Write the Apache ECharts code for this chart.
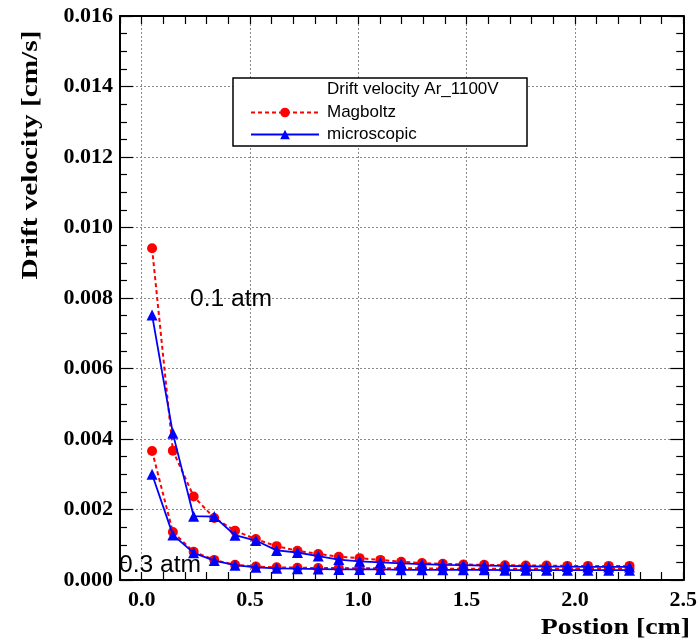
<!DOCTYPE html>
<html>
<head>
<meta charset="utf-8">
<script src="https://cdn.jsdelivr.net/npm/echarts@6/dist/echarts.min.js"></script>
<style>html,body{margin:0;padding:0;background:#fff}#c{width:700px;height:643px}</style>
</head>
<body>
<div id="c"></div>
<script>
// Positions [cm]
var positions = [0.048, 0.144, 0.240, 0.335, 0.431, 0.527, 0.623, 0.719, 0.815, 0.910, 1.006, 1.102,
                 1.198, 1.294, 1.390, 1.485, 1.581, 1.677, 1.773, 1.869, 1.965, 2.060, 2.156, 2.252];
// Drift velocity [cm/s]
var magboltz01 = [0.00941, 0.00367, 0.00237, 0.00176, 0.00140, 0.00116, 0.00096, 0.00083, 0.00074, 0.00066, 0.00062, 0.00057,
                  0.00052, 0.00048, 0.00046, 0.00044, 0.00043, 0.00042, 0.00041, 0.00041, 0.00040, 0.00040, 0.00040, 0.00040];
var micro01    = [0.00752, 0.00416, 0.00181, 0.00180, 0.00127, 0.00112, 0.00084, 0.00078, 0.00068, 0.00058, 0.00053, 0.00050,
                  0.00047, 0.00045, 0.00043, 0.00042, 0.00041, 0.00040, 0.00039, 0.00038, 0.00038, 0.00037, 0.00037, 0.00037];
var magboltz03 = [0.00366, 0.00136, 0.00080, 0.00057, 0.00043, 0.00038, 0.00036, 0.00035, 0.00034, 0.00034, 0.00033, 0.00033,
                  0.00033, 0.00033, 0.00032, 0.00032, 0.00032, 0.00032, 0.00032, 0.00032, 0.00032, 0.00032, 0.00032, 0.00032];
var micro03    = [0.00300, 0.00128, 0.00077, 0.00055, 0.00042, 0.00036, 0.00033, 0.00032, 0.00031, 0.00030, 0.00030, 0.00030,
                  0.00029, 0.00029, 0.00029, 0.00029, 0.00029, 0.00028, 0.00028, 0.00028, 0.00028, 0.00028, 0.00028, 0.00028];
var seriesNames = ['Magboltz', 'microscopic'];
var legendTitle = 'Drift velocity Ar_1100V';
var pressureLabels = ['0.1 atm', '0.3 atm'];
var xTitle = 'Postion [cm]';
var yTitle = 'Drift velocity [cm/s]';

function pairs(xs, ys) { return xs.map(function (x, i) { return [x, ys[i]]; }); }

var chart = echarts.init(document.getElementById('c'), null, {renderer: 'canvas'});
var labelFont = {color: '#000', fontFamily: 'Liberation Serif', fontWeight: 'bold', fontSize: 22};
var T = 'rgba(0,0,0,0)';
var gridColor = '#8a8a8a';

function redSeries(data) {
  return {name: seriesNames[0], type: 'line', data: data, symbol: 'circle', symbolSize: 10,
    itemStyle: {color: '#ff0000'}, lineStyle: {color: '#ff0000', width: 2, type: [4, 3]}, z: 2, animation: false};
}
function blueSeries(data) {
  return {name: seriesNames[1], type: 'line', data: data, symbol: 'triangle', symbolSize: 11,
    itemStyle: {color: '#0000ff'}, lineStyle: {color: '#0000ff', width: 1.8}, z: 3, animation: false};
}

chart.setOption({
  animation: false,
  backgroundColor: '#fff',
  grid: {left: 120, right: 14, top: 16, bottom: 63, containLabel: false},
  xAxis: [
    {type: 'value', position: 'bottom', min: -0.1, max: 2.5, interval: 0.1,
     axisLine: {show: true, onZero: false, lineStyle: {color: '#000', width: 2}},
     axisTick: {show: true, inside: true, length: 8, lineStyle: {color: '#000', width: 1.2}},
     axisLabel: Object.assign({margin: 9, showMinLabel: true, showMaxLabel: true,
       formatter: function (v) { var k = Math.round(v * 10); return (k >= 0 && k % 5 === 0) ? (k / 10).toFixed(1) : ''; }}, labelFont),
     splitLine: {show: true, lineStyle: {color: [T, gridColor, T, T, T], type: [2, 2], width: 1}}},
    {type: 'value', position: 'top', min: -0.1, max: 2.5, interval: 0.1,
     axisLine: {show: true, onZero: false, lineStyle: {color: '#000', width: 2}},
     axisTick: {show: true, inside: true, length: 8, lineStyle: {color: '#000', width: 1.2}},
     axisLabel: {show: false}, splitLine: {show: false}}
  ],
  yAxis: [
    {type: 'value', position: 'left', min: 0, max: 0.016, interval: 0.002,
     axisLine: {show: true, onZero: false, lineStyle: {color: '#000', width: 2}},
     axisTick: {show: true, inside: true, length: 13, lineStyle: {color: '#000', width: 1.2}},
     minorTick: {show: true, splitNumber: 4, length: 7, lineStyle: {color: '#000', width: 1.2}},
     axisLabel: Object.assign({margin: 7, formatter: function (v) { return v.toFixed(3); }}, labelFont),
     splitLine: {show: true, lineStyle: {color: gridColor, type: [2, 2], width: 1}}},
    {type: 'value', position: 'right', min: 0, max: 0.016, interval: 0.002,
     axisLine: {show: true, onZero: false, lineStyle: {color: '#000', width: 2}},
     axisTick: {show: true, inside: true, length: 13, lineStyle: {color: '#000', width: 1.2}},
     minorTick: {show: true, splitNumber: 4, length: 7, lineStyle: {color: '#000', width: 1.2}},
     axisLabel: {show: false}, splitLine: {show: false}}
  ],
  legend: {
    data: seriesNames, orient: 'vertical', left: 245, top: 99, itemWidth: 68, itemHeight: 12, itemGap: 5,
    textStyle: {color: '#000', fontFamily: 'Liberation Sans', fontSize: 17, padding: [0, 0, 0, 3]}, z: 10, selectedMode: false
  },
  graphic: [
    {type: 'rect', z: 8, shape: {x: 233, y: 78, width: 294, height: 68},
     style: {fill: '#fff', stroke: '#000', lineWidth: 1.5}},
    {type: 'text', z: 9, x: 327, y: 89, style: {text: legendTitle, font: '17px "Liberation Sans"', fill: '#000', verticalAlign: 'middle'}},
    {type: 'text', z: 9, x: 190, y: 300, scaleX: 1.07, style: {text: pressureLabels[0], font: '23px "Liberation Sans"', fill: '#000', verticalAlign: 'middle'}},
    {type: 'text', z: 9, x: 119, y: 566, scaleX: 1.07, style: {text: pressureLabels[1], font: '23px "Liberation Sans"', fill: '#000', verticalAlign: 'middle'}},
    {type: 'text', z: 9, x: 31, y: 155, rotation: Math.PI / 2, scaleX: 1.22,
     style: {text: yTitle, font: 'bold 24px "Liberation Serif"', fill: '#000', align: 'center', verticalAlign: 'middle'}},
    {type: 'text', z: 9, x: 690, y: 628, scaleX: 1.16,
     style: {text: xTitle, font: 'bold 24px "Liberation Serif"', fill: '#000', align: 'right', verticalAlign: 'middle'}}
  ],
  series: [
    redSeries(pairs(positions, magboltz01)),
    redSeries(pairs(positions, magboltz03)),
    blueSeries(pairs(positions, micro01)),
    blueSeries(pairs(positions, micro03))
  ]
});
</script>
</body>
</html>
